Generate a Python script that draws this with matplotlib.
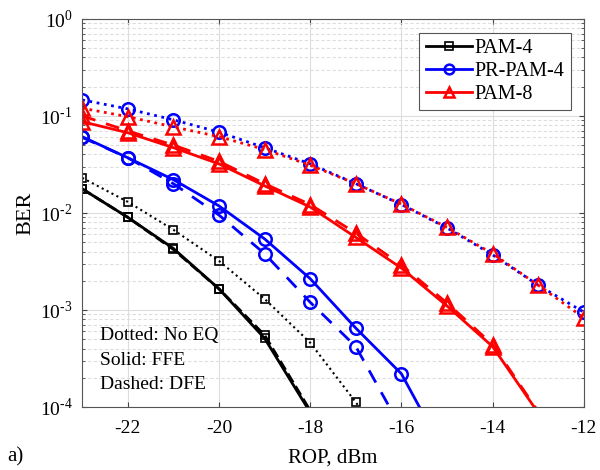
import numpy as np
from matplotlib import pyplot as plt
from matplotlib.lines import Line2D

plt.rcParams['font.family'] = ['Liberation Serif', 'DejaVu Serif']
plt.rcParams['mathtext.fontset'] = 'custom'
plt.rcParams['mathtext.rm'] = 'Liberation Serif'
plt.rcParams['axes.unicode_minus'] = False

# ROP in dBm and BER values
rop = [-23, -22, -21, -20, -19, -18, -17, -16, -15, -14, -13, -12]

pam4_noeq = [0.023, 0.013, 0.0067, 0.0032, 0.0013, 0.00046, 0.000112, 2.5e-5]
pam4_ffe = [0.0177, 0.0090, 0.0043, 0.00165, 0.00051, 8.8e-5]
pam4_dfe = [0.0177, 0.0090, 0.0042, 0.00165, 0.00055, 9.2e-5]

pr_noeq = [0.146, 0.118, 0.091, 0.068, 0.047, 0.032, 0.020, 0.0122, 0.0070, 0.0037, 0.0018, 0.00095]
pr_ffe = [0.061, 0.037, 0.022, 0.0118, 0.0054, 0.0021, 0.00065, 0.00022, 3e-5]
pr_dfe = [0.060, 0.037, 0.020, 0.0095, 0.0038, 0.0012, 0.00042, 6e-5]

pam8_noeq = [0.12, 0.098, 0.077, 0.061, 0.045, 0.031, 0.020, 0.0123, 0.0071, 0.0038, 0.0018, 0.00083]
pam8_ffe = [0.087, 0.067, 0.047, 0.032, 0.019, 0.0115, 0.0056, 0.0027, 0.0011, 0.00042, 8.7e-5]
pam8_dfe = [0.10, 0.070, 0.050, 0.034, 0.020, 0.0122, 0.0062, 0.0029, 0.00118, 0.00044, 9e-5]

legend_labels = ['PAM-4', 'PR-PAM-4', 'PAM-8']

fig = plt.figure(figsize=(6, 4.7), dpi=100)
ax = fig.add_axes([0.137, 0.134, 0.836, 0.826])

sq = dict(marker='s', ms=6, mfc='none', mew=1.2)
ci = dict(marker='o', ms=9, mfc='none', mew=1.8)
tr = dict(marker='^', ms=10, mfc='none', mew=1.8)


def curve(vals, ls, color, lw, style, **kw):
    # like matlab: no marker drawn for points below the axis
    shown = [i for i, v in enumerate(vals) if v >= 1e-4]
    ax.plot(rop[:len(vals)], vals, ls, color=color, lw=lw, markevery=shown, **style, **kw)


curve(pam4_noeq, ':', 'black', 1.5, sq)
curve(pam4_ffe, '-', 'black', 2, sq)
curve(pam4_dfe, '--', 'black', 2, sq)

curve(pr_noeq, ':', 'blue', 2, ci)
curve(pr_ffe, '-', 'blue', 2, ci)
curve(pr_dfe, '--', 'blue', 2, ci, dashes=(5, 4))

curve(pam8_noeq, ':', 'red', 2, tr)
curve(pam8_ffe, '-', 'red', 2, tr)
curve(pam8_dfe, '--', 'red', 2, tr, dashes=(5, 4))

ax.set_yscale('log')
ax.set_xlim(-23, -12)
ax.set_ylim(1e-4, 1)
ax.set_xticks([-22, -20, -18, -16, -14, -12])
ax.set_yticks([1e-4, 1e-3, 1e-2, 1e-1, 1])
ax.set_yticklabels([r'$10^{\text{-4}}$', r'$10^{\text{-3}}$', r'$10^{\text{-2}}$',
                    r'$10^{\text{-1}}$', r'$10^{0}$'])

ax.grid(True, which='major', color='#dddddd', lw=0.8)
ax.grid(True, which='minor', axis='y', color='#dddddd', lw=0.8, ls=(0, (3, 2)))
ax.set_axisbelow(True)
ax.tick_params(axis='both', which='both', direction='in', top=True, right=True,
               labelsize=14, color='#444444')
ax.tick_params(axis='x', pad=9)
ax.tick_params(axis='y', pad=7)
for s in ax.spines.values():
    s.set_color('#555555')

ax.set_xlabel('ROP, dBm', fontsize=15, labelpad=9)
ax.set_ylabel('BER', fontsize=16, labelpad=3)

handles = [
    Line2D([], [], color='black', lw=2, marker='s', ms=6, mfc='none', mew=1.2),
    Line2D([], [], color='blue', lw=2, marker='o', ms=7, mfc='none', mew=1.8),
    Line2D([], [], color='red', lw=2, marker='^', ms=7, mfc='none', mew=1.8),
]
leg = ax.legend(handles, legend_labels, loc='upper right', bbox_to_anchor=(0.974, 0.964),
                borderaxespad=0, fontsize=14.5, fancybox=False, framealpha=1,
                edgecolor='#555555', handlelength=2.3, handletextpad=0.15,
                borderpad=0.3, labelspacing=0.2)
leg.get_frame().set_linewidth(0.8)

ax.text(0.035, 0.205, 'Dotted: No EQ\nSolid: FFE\nDashed: DFE', transform=ax.transAxes,
        fontsize=14, va='top', linespacing=1.55)
fig.text(0.012, 0.018, 'a)', fontsize=15)

plt.savefig('out.png', dpi=100)
